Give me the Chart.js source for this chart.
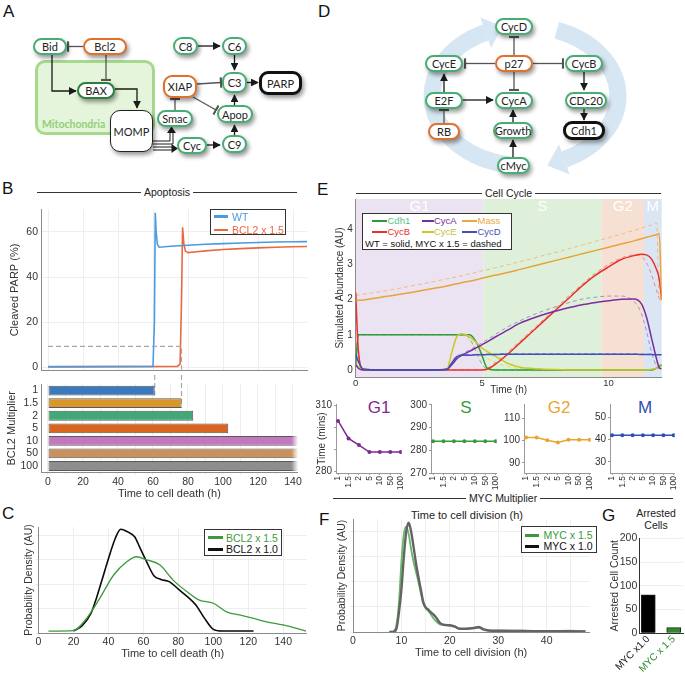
<!DOCTYPE html>
<html>
<head>
<meta charset="utf-8">
<title>Apoptosis and cell cycle model</title>
<script src="https://cdn.jsdelivr.net/npm/chart.js@4.4.1/dist/chart.umd.min.js"></script>
<style>
  body { margin: 0; background: #fff; }
  #fig { position: relative; width: 685px; height: 674px; overflow: hidden; font-family: 'Liberation Sans', Arial, sans-serif; color: #222; }
  #fig canvas { position: absolute; }
  .t { position: absolute; white-space: nowrap; transform: translate(-50%, -50%); line-height: 1; }
  .letter { position: absolute; font-size: 17px; line-height: 17px; color: #111; }
  .node { position: absolute; box-sizing: border-box; background: #fff; border: 2px solid #47ad74; border-radius: 9px;
          display: flex; align-items: center; justify-content: center; font-family: Lato, 'Liberation Sans', sans-serif;
          font-size: 11px; color: #222; box-shadow: 2px 3px 4px rgba(0,0,0,0.4); z-index: 3; }
  .node.or { border-color: #e0702c; }
  .node.dg { border-color: #2d7d3f; }
  .node.bk { border: 3px solid #111; }
  .node.mo { border: 1px solid #222; border-radius: 10px; }
  .sect { position: absolute; display: flex; align-items: center; font-size: 10.5px; height: 12px; }
  .sect i { flex: 1; height: 1px; background: #333; }
  .sect span { padding: 0 3px; }
  .leg { position: absolute; box-sizing: border-box; border: 1px solid #333; background: #fff; z-index: 4; font-size: 10px; }
  .leg span { position: absolute; white-space: nowrap; line-height: 12px; }
  .leg b { position: absolute; height: 2.5px; }
  #mito { position: absolute; left: 35px; top: 60px; width: 120px; height: 75px; box-sizing: border-box; border: 3px solid #a7d98c;
          border-radius: 10px; background: rgba(196, 232, 176, 0.45); z-index: 1; }
  #mito span { position: absolute; left: 4px; top: 55px; font-family: Lato, sans-serif; font-size: 10.5px; font-weight: bold; color: #93cf76; }
</style>
</head>
<body>
<div id="fig">
  <div class="letter" style="left:3px;top:3px">A</div>
  <div class="letter" style="left:318px;top:3px">D</div>
  <div class="letter" style="left:2px;top:180px">B</div>
  <div class="letter" style="left:2px;top:505px">C</div>
  <div class="letter" style="left:317px;top:181px">E</div>
  <div class="letter" style="left:319px;top:511px">F</div>
  <div class="letter" style="left:602px;top:507px">G</div>
  <div id="mito"><span>Mitochondria</span></div>

  <svg width="685" height="185" style="position:absolute;left:0;top:0;z-index:2" xmlns="http://www.w3.org/2000/svg">
    <defs>
      <marker id="ar" viewBox="0 0 10 10" refX="9" refY="5" markerWidth="6" markerHeight="6" orient="auto"><path d="M0,0 L10,5 L0,10 z" fill="#1a1a1a"/></marker>
      <marker id="tee" viewBox="0 0 4 12" refX="3" refY="6" markerWidth="3" markerHeight="8" orient="auto"><path d="M3,0 L3,12" stroke="#555" stroke-width="2.5"/></marker>
    </defs>
    <!-- cell cycle wheel -->
    <path d="M508.9,164.9 A93,70 0 0 1 485.7,32.6" fill="none" stroke="#d6e6f3" stroke-width="17"/>
    <polygon points="502.7,26.6 491,47.7 480.4,17.5" fill="#d6e6f3"/>
    <path d="M556.8,30.2 A93,70 0 0 1 564.3,159.4" fill="none" stroke="#d6e6f3" stroke-width="17"/>
    <polygon points="547.3,165.4 569.6,174.5 559,144.3" fill="#d6e6f3"/>
    <!-- activation -->
    <g fill="none" stroke="#1a1a1a" stroke-width="1.3" marker-end="url(#ar)">
      <path d="M52,55 V91 H76"/>
      <path d="M115,89 H137 V108"/>
      <path d="M198,46 H220"/>
      <path d="M234.5,55 V70"/>
      <path d="M247,82.5 H258"/>
      <path d="M234.5,105 V95"/>
      <path d="M234.5,135 V125"/>
      <path d="M207,145 H220"/>
      <path d="M444,92 V74"/>
      <path d="M463,100 H493"/>
      <path d="M513,122 V110"/>
      <path d="M513,157 V140"/>
      <path d="M584,72 V90"/>
      <path d="M584,109 V120"/>
    </g>
    <!-- inhibition -->
    <g fill="none" stroke="#555" stroke-width="1.3" marker-end="url(#tee)">
      <path d="M83,46.5 H68"/>
      <path d="M106,55 V80"/>
      <path d="M175,110 V99"/>
      <path d="M197,84 L221,82.5"/>
      <path d="M193,97 L216,110"/>
      <path d="M514,55 V37"/>
      <path d="M495,63.5 H465"/>
      <path d="M533,63.5 H563"/>
      <path d="M514,72 V90"/>
      <path d="M444,123 V110"/>
    </g>
    <!-- MOMP double arrows -->
    <g fill="none" stroke="#1a1a1a" stroke-width="1">
      <path d="M153,141 H170 V131"/><path d="M153,144 H173 V131"/>
      <path d="M153,147 H173"/><path d="M153,150 H173"/>
    </g>
    <polygon points="171.5,126.5 167,133 176,133" fill="#1a1a1a"/>
    <polygon points="178,148.5 171.5,144 171.5,153" fill="#1a1a1a"/>
  </svg>
</div>

<script>
// ---- data ----
// B: cleaved PARP traces (h, %)
const bTimeWT  = [0, 60, 60.8, 61.3, 61.8, 62.5, 63.5, 70, 80, 90, 100, 110, 120, 130, 140, 148];
const bParpWT  = [0.3, 0.4, 20, 68.5, 60, 54.5, 53.2, 53.6, 54.1, 54.5, 54.8, 55.1, 55.3, 55.5, 55.6, 55.7];
const bTimeBcl = [0, 74, 75.5, 76.3, 76.9, 77.6, 78.5, 80, 85, 90, 100, 110, 120, 130, 140, 148];
const bParpBcl = [0.2, 0.4, 1.5, 30, 62, 55, 51.5, 50.8, 51.2, 51.6, 52.2, 52.6, 52.9, 53.2, 53.4, 53.5];
const bThreshX = [0, 76.3, 76.3];
const bThreshY = [9.3, 9.3, -1.5];
const parpTicks = [0, 20, 40, 60];
const deathTicks = [0, 10, 20, 30, 40, 50, 60, 70, 80, 90, 100, 110, 120, 130, 140];

// B: time to death per BCL2 multiplier
const bclMult = ['1', '1.5', '2', '5', '10', '50', '100'];
const bclDeath = [61, 76.3, 83, 103, 143, 143, 143];
const bclColors = ['#3a79bb', '#d9962b', '#43a878', '#d9641f', '#c277bf', '#c8925f', '#8e8e8e'];

// C: death-time densities
const cTimeBlack = [20, 25, 30, 33, 36, 40, 44, 47, 51, 55, 58, 62, 66, 70, 75, 80, 85, 90, 95, 100, 105, 123];
const cBlack     = [0.08, 0.3, 0.8, 1.4, 2.1, 3.05, 3.9, 4.26, 4.15, 3.95, 3.5, 2.9, 2.35, 2.2, 2.1, 1.8, 1.5, 1.15, 0.6, 0.15, 0.08, 0.08];
const cTimeGreen = [5.7, 20, 27.5, 35, 43, 50.5, 56, 62, 69.5, 77, 85, 92, 100, 107.5, 115, 123, 130.5, 140, 153];
const cGreen     = [0.08, 0.1, 0.6, 1.42, 2.38, 2.92, 3.13, 3.0, 2.79, 2.17, 1.69, 1.35, 1.22, 0.87, 0.74, 0.6, 0.46, 0.33, 0.08];
const cTicks = [0, 20, 40, 60, 80, 100, 120, 140];
const densTicks = [0, 1, 2, 3, 4];

// E: simulated abundances over one cycle
const phaseNames  = ['G1', 'S', 'G2', 'M'];
const phaseStart  = [0, 5.05, 9.72, 11.4];
const phaseEnd    = [5.05, 9.72, 11.4, 12.1];
const phaseColors = ['#ebe3f2', '#dff0da', '#f6e0d4', '#dbe6f4'];
const tE = [0, 0.1, 0.3, 1, 2, 3, 3.6, 3.8, 4.0, 4.2, 4.5, 4.8, 5.0, 5.2, 5.5, 6, 6.5, 7, 7.5, 8, 8.5, 9, 9.5, 10, 10.5, 11, 11.3, 11.5, 11.7, 11.9, 12.0, 12.1];
const massWT  = [1.97, 1.98, 1.99, 2.07, 2.18, 2.31, 2.39, 2.42, 2.45, 2.48, 2.52, 2.57, 2.61, 2.64, 2.69, 2.77, 2.86, 2.95, 3.04, 3.13, 3.22, 3.31, 3.40, 3.49, 3.58, 3.67, 3.73, 3.77, 3.81, 3.85, 3.88, 2.0];
const massMYC = [2.12, 2.13, 2.15, 2.23, 2.36, 2.50, 2.59, 2.62, 2.65, 2.68, 2.73, 2.78, 2.82, 2.85, 2.90, 2.99, 3.08, 3.17, 3.27, 3.36, 3.46, 3.56, 3.66, 3.76, 3.86, 3.97, 4.03, 4.08, 4.12, 4.18, 2.0, 1.98];
const cycBWT  = [2.2, 0.6, 0.02, 0, 0, 0, 0, 0, 0, 0, 0, 0, 0, 0.02, 0.15, 0.44, 0.77, 1.1, 1.43, 1.76, 2.09, 2.42, 2.7, 2.93, 3.14, 3.25, 3.29, 3.27, 3.15, 2.85, 2.6, 2.0];
const cycBMYC = [2.2, 0.5, 0.01, 0, 0, 0, 0, 0, 0, 0, 0, 0, 0.01, 0.05, 0.2, 0.5, 0.82, 1.15, 1.48, 1.82, 2.15, 2.47, 2.76, 3.0, 3.18, 3.27, 3.22, 3.05, 2.7, 2.25, 2.05, 2.0];
const cycAWT  = [0.15, 0.05, 0, 0, 0, 0, 0.02, 0.15, 0.32, 0.42, 0.53, 0.64, 0.72, 0.8, 0.93, 1.13, 1.33, 1.47, 1.59, 1.69, 1.78, 1.86, 1.92, 1.97, 2.01, 2.02, 1.88, 1.5, 0.9, 0.3, 0.07, 0.03];
const cycAMYC = [0.15, 0.05, 0, 0, 0, 0, 0.03, 0.18, 0.35, 0.45, 0.57, 0.68, 0.78, 0.86, 1.0, 1.22, 1.4, 1.56, 1.7, 1.82, 1.93, 2.02, 2.07, 2.1, 2.1, 1.95, 1.6, 1.1, 0.5, 0.1, 0.05, 0.03];
const cdh1WT  = [0.1, 1, 1, 1, 1, 1, 1, 1, 1, 1, 1, 0.75, 0.4, 0.05, 0, 0, 0, 0, 0, 0, 0, 0, 0, 0, 0, 0, 0, 0, 0, 0.05, 0.1, 0.15];
const cdh1MYC = [0.1, 1, 1, 1, 1, 1, 1, 1, 1, 1, 0.9, 0.45, 0.15, 0.02, 0, 0, 0, 0, 0, 0, 0, 0, 0, 0, 0, 0, 0, 0, 0.01, 0.06, 0.12, 0.16];
const cycEWT  = [0.15, 0.1, 0.02, 0, 0, 0, 0.02, 0.5, 0.95, 1.03, 0.95, 0.76, 0.62, 0.52, 0.4, 0.19, 0.08, 0.04, 0.02, 0.01, 0, 0, 0, 0, 0, 0, 0, 0, 0.02, 0.05, 0.08, 0.12];
const cycEMYC = [0.15, 0.1, 0.02, 0, 0, 0, 0.03, 0.55, 0.98, 1.0, 0.85, 0.55, 0.42, 0.33, 0.22, 0.1, 0.04, 0.02, 0.01, 0, 0, 0, 0, 0, 0, 0, 0, 0, 0.02, 0.05, 0.09, 0.13];
const cycDWT  = [0.45, 0.25, 0.02, 0, 0, 0, 0.01, 0.2, 0.38, 0.42, 0.42, 0.43, 0.43, 0.44, 0.44, 0.45, 0.45, 0.45, 0.45, 0.45, 0.45, 0.45, 0.45, 0.45, 0.45, 0.45, 0.44, 0.44, 0.44, 0.43, 0.43, 0.43];
const cycDMYC = [0.45, 0.25, 0.02, 0, 0, 0, 0.02, 0.22, 0.4, 0.43, 0.44, 0.44, 0.45, 0.45, 0.45, 0.46, 0.46, 0.46, 0.46, 0.46, 0.46, 0.46, 0.46, 0.46, 0.46, 0.46, 0.45, 0.45, 0.45, 0.44, 0.44, 0.44];

// E: phase durations vs MYC multiplier (mins)
const mycMult = ['1', '1.5', '2', '5', '10', '50', '100'];
const multIdx = [0, 1, 2, 3, 4, 5, 6];
const g1Mins = [303, 295, 292, 288.8, 288.8, 288.8, 288.8];
const sMins  = [284, 284, 284, 284, 284, 284, 284];
const g2Mins = [101.4, 101.3, 100.1, 99.1, 100.3, 100.3, 100.3];
const mMins  = [42, 42, 42, 42, 42, 42, 42];

// F: division-time densities
const fTime   = [7.5, 8, 8.5, 9, 9.5, 10, 10.5, 11, 11.5, 12, 12.5, 13, 13.5, 14, 14.5, 15, 15.5, 16, 17, 18, 19, 20, 21, 22, 23, 24, 25, 26, 27, 28, 30, 35, 40, 45, 48];
const fMyc10  = [0, 0, 0.02, 0.15, 0.8, 1.7, 3.0, 4.0, 4.35, 4.0, 3.4, 2.75, 2.2, 1.7, 1.2, 0.98, 0.9, 0.8, 0.62, 0.35, 0.28, 0.27, 0.22, 0.13, 0.13, 0.14, 0.16, 0.2, 0.1, 0.06, 0.05, 0.04, 0.03, 0.03, 0.02];
const fMyc15  = [0, 0.01, 0.05, 0.3, 1.2, 2.8, 3.9, 4.2, 3.9, 3.3, 2.8, 2.4, 2.0, 1.55, 1.15, 0.95, 0.85, 0.72, 0.45, 0.3, 0.27, 0.25, 0.2, 0.13, 0.12, 0.14, 0.16, 0.17, 0.08, 0.06, 0.05, 0.05, 0.04, 0.05, 0.03];
const fTicks = [0, 5, 10, 15, 20, 25, 30, 35, 40, 45];

// G: arrested cells
const gLabels = ['MYC x1.0', 'MYC x 1.5'];
const gArrested = [81, 12];
const gColors = ['#000000', '#2e8b2e'];
const gTickColors = ['#111111', '#2e8b2e'];
const gTicks = [0, 50, 100, 150, 200];

// ---- page helpers ----
const fig = document.getElementById('fig');
function el(tag, cls, css, txt) {
  const e = document.createElement(tag);
  if (cls) e.className = cls;
  Object.assign(e.style, css);
  if (txt != null) e.textContent = txt;
  return e;
}
function text(str, cx, cy, size, color) {
  fig.appendChild(el('div', 't', {left: cx + 'px', top: cy + 'px', fontSize: size + 'px', color: color || '#222'}, str));
}
function section(str, l, w, cy) {
  const d = el('div', 'sect', {left: l + 'px', top: (cy - 6) + 'px', width: w + 'px'});
  d.innerHTML = '<i></i><span>' + str + '</span><i></i>';
  fig.appendChild(d);
}
function legend(l, t, w, h, items) {
  const box = el('div', 'leg', {left: l + 'px', top: t + 'px', width: w + 'px', height: h + 'px'});
  items.forEach(it => {
    if (it.line) box.appendChild(el('b', null, {left: it.x + 'px', top: (it.cy - 1.25) + 'px', width: it.line + 'px', background: it.color}));
    if (it.text) box.appendChild(el('span', null, {left: it.tx + 'px', top: (it.cy - 6) + 'px', color: it.tcolor || it.color, fontSize: (it.size || 10) + 'px'}, it.text));
  });
  fig.appendChild(box);
}
function node(label, l, t, w, h, cls) {
  fig.appendChild(el('div', 'node' + (cls ? ' ' + cls : ''), {left: l + 'px', top: t + 'px', width: w + 'px', height: h + 'px'}, label));
}
function mk(left, top, w, h) {
  const c = document.createElement('canvas');
  c.width = w; c.height = h;
  c.style.left = left + 'px'; c.style.top = top + 'px';
  c.style.width = w + 'px'; c.style.height = h + 'px';
  fig.appendChild(c);
  return c;
}
const setW = w => s => { s.width = w; };
const setH = h => s => { s.height = h; };
const ticksAt = vals => s => { s.ticks = vals.map(v => ({value: v})); };
const xy = (xs, ys) => xs.map((x, i) => ({x: x, y: ys[i]}));
function hexA(hex, a) {
  const n = parseInt(hex.slice(1), 16);
  return 'rgba(' + (n >> 16) + ',' + ((n >> 8) & 255) + ',' + (n & 255) + ',' + a + ')';
}

// ---- diagrams ----
[['Bid', 33, 38, 34, 17], ['Bcl2', 83, 38, 44, 17, 'or'], ['BAX', 77, 82, 38, 17, 'dg'], ['MOMP', 110, 110, 43, 42, 'mo'],
 ['XIAP', 163, 75, 34, 23, 'or'], ['Smac', 157, 110, 36, 17], ['Cyc', 177, 137, 30, 17], ['C8', 173, 37, 25, 18],
 ['C6', 222, 37, 25, 18], ['C3', 222, 72, 25, 21], ['PARP', 259, 71, 43, 24, 'bk'], ['Apop', 217, 105, 36, 18], ['C9', 222, 135, 25, 18],
 ['CycD', 495, 18, 38, 17], ['p27', 495, 55, 38, 17, 'or'], ['CycE', 425, 55, 38, 17], ['CycB', 565, 55, 38, 17],
 ['E2F', 425, 92, 38, 17], ['CycA', 495, 92, 38, 17], ['CDc20', 565, 92, 42, 17], ['RB', 428, 123, 32, 17, 'or'],
 ['Growth', 493, 122, 40, 17], ['Cdh1', 563, 121, 42, 19, 'bk'], ['cMyc', 497, 157, 33, 17]
].forEach(n => node.apply(null, n));

// ---- text furniture ----
section('Apoptosis', 37, 260, 192);
section('Cell Cycle', 356, 305, 193);
section('MYC Multiplier', 333, 340, 498);
text('Time to cell division (h)', 467, 515, 11);
text('Arrested', 656, 513, 10.5);
text('Cells', 656, 525, 10.5);
text('G1', 379, 407, 17, '#7d2a8f');
text('S', 466, 407, 17, '#3a9a3a');
text('G2', 559, 407, 17, '#e8a630');
text('M', 645, 407, 17, '#3050b0');

legend(210, 209, 76, 26, [
  {x: 3, cy: 6.5, line: 14, color: '#4a9be0', tx: 21, text: 'WT', size: 10.5},
  {x: 3, cy: 20, line: 14, color: '#ea6840', tx: 21, text: 'BCL2 x 1.5', size: 10.5}
]);
legend(204, 529, 78, 27, [
  {x: 3, cy: 7.7, line: 15, color: '#3d9a3d', tx: 21, text: 'BCL2 x 1.5', size: 10.5},
  {x: 3, cy: 19.3, line: 15, color: '#111', tx: 21, text: 'BCL2 x 1.0', size: 10.5}
]);
legend(521, 526, 76, 27, [
  {x: 3, cy: 8.3, line: 14, color: '#3a9a3a', tx: 21.5, text: 'MYC x 1.5', size: 10.5},
  {x: 3, cy: 19.3, line: 14, color: '#111', tx: 21.5, text: 'MYC x 1.0', size: 10.5}
]);
legend(362, 213, 150, 37, [
  {x: 9, cy: 7, line: 15, color: '#2e9b3a', tx: 24.5, text: 'Cdh1', tcolor: '#5cc08a', size: 9.5},
  {x: 59, cy: 7, line: 12, color: '#7b2c9e', tx: 71, text: 'CycA', size: 9.5},
  {x: 99, cy: 7, line: 15, color: '#eaa63f', tx: 114.5, text: 'Mass', size: 9.5},
  {x: 9, cy: 18, line: 15, color: '#e8312a', tx: 24.5, text: 'CycB', size: 9.5},
  {x: 59, cy: 18, line: 12, color: '#c9c92c', tx: 71, text: 'CycE', tcolor: '#c3c33a', size: 9.5},
  {x: 99, cy: 18, line: 15, color: '#3f51b5', tx: 114.5, text: 'CycD', size: 9.5},
  {tx: 2, cy: 29.5, text: 'WT = solid, MYC x 1.5 = dashed', color: '#111', size: 9.5}
]);

// ---- charts ----
Chart.defaults.font.family = "'Liberation Sans', Arial, sans-serif";
Chart.defaults.font.size = 10;
Chart.defaults.color = '#333';
Chart.defaults.animation = false;
Chart.defaults.responsive = false;
Chart.defaults.plugins.legend.display = false;
Chart.defaults.plugins.tooltip.enabled = false;
Chart.defaults.elements.point.radius = 0;

const faint = '#eeeeee';
const axisCol = '#8a8a8a';

// B top: cleaved PARP
new Chart(mk(0, 200, 312, 180), {
  type: 'line',
  data: {datasets: [
    {data: xy(bThreshX, bThreshY), borderColor: '#a8a8a8', borderWidth: 1.2, borderDash: [5, 3]},
    {data: xy(bTimeWT, bParpWT), borderColor: '#4a9be0', borderWidth: 1.6},
    {data: xy(bTimeBcl, bParpBcl), borderColor: '#ea6840', borderWidth: 1.6}
  ]},
  options: {
    layout: {padding: {top: 8.5, right: 5, left: 0, bottom: 0}},
    scales: {
      x: {type: 'linear', min: -4, max: 148, afterFit: setH(3.3), afterBuildTicks: ticksAt(cTicks),
          ticks: {display: false}, grid: {color: faint, drawTicks: false}, border: {color: axisCol}},
      y: {min: -1.5, max: 70, afterFit: setW(41), afterBuildTicks: ticksAt(parpTicks),
          ticks: {padding: 3, font: {size: 10.5}}, grid: {color: faint, drawTicks: false}, border: {color: axisCol},
          title: {display: true, text: 'Cleaved PARP (%)', font: {size: 11}, padding: {top: 8}}}
    }
  }
});

// B bottom: time to death per BCL2 multiplier
const bFadeFrom = 139;
function fadeFill(colors) {
  return ctx => {
    const c = colors[ctx.dataIndex];
    const ch = ctx.chart;
    if (!ch.chartArea || ctx.raw < bFadeFrom + 1) return c;
    const xs = ch.scales.x;
    const g = ch.ctx.createLinearGradient(xs.getPixelForValue(bFadeFrom), 0, xs.getPixelForValue(ctx.raw), 0);
    g.addColorStop(0, c);
    g.addColorStop(1, hexA(c, 0));
    return g;
  };
}
const guidePlugin = {
  id: 'guides',
  beforeDatasetsDraw(chart) {
    const {ctx, scales: {x, y}} = chart;
    const half = y.getPixelForValue(1) - y.getPixelForValue(0);
    ctx.save();
    ctx.strokeStyle = '#a8a8a8'; ctx.lineWidth = 1.2; ctx.setLineDash([5, 3]);
    [0, 1].forEach(i => {
      const px = x.getPixelForValue(bclDeath[i]);
      ctx.beginPath(); ctx.moveTo(px, 0); ctx.lineTo(px, y.getPixelForValue(i) + half * 0.4); ctx.stroke();
    });
    ctx.restore();
  }
};
new Chart(mk(0, 375, 312, 128), {
  type: 'bar',
  data: {labels: bclMult, datasets: [{
    data: bclDeath,
    backgroundColor: fadeFill(bclColors),
    borderColor: fadeFill(bclColors.map(() => '#5a5a5a')),
    borderWidth: 1, borderSkipped: false, barPercentage: 0.78, categoryPercentage: 1
  }]},
  options: {
    indexAxis: 'y',
    layout: {padding: {top: 8.7, right: 14.3, left: 0, bottom: 0}},
    scales: {
      x: {type: 'linear', min: -4, max: 142.7, afterFit: setH(30.7), afterBuildTicks: ticksAt(deathTicks),
          ticks: {padding: 1, font: {size: 10.5}, minRotation: 0, maxRotation: 0, autoSkip: false,
                  callback: v => (v % 20 === 0 ? v : '')},
          grid: {color: faint, tickLength: 3}, border: {color: axisCol},
          title: {display: true, text: 'Time to cell death (h)', font: {size: 11}, padding: {top: 0, bottom: 2}}},
      y: {afterFit: setW(41), ticks: {padding: 3, font: {size: 10.5}, autoSkip: false},
          grid: {display: false, drawTicks: false}, border: {color: axisCol},
          title: {display: true, text: 'BCL2 Multiplier', font: {size: 11}, padding: {top: 5.4}}}
    }
  },
  plugins: [guidePlugin]
});

// C: density of death times
new Chart(mk(0, 520, 312, 143), {
  type: 'line',
  data: {datasets: [
    {data: xy(cTimeGreen, cGreen), borderColor: '#3d9a3d', borderWidth: 1.3, cubicInterpolationMode: 'monotone'},
    {data: xy(cTimeBlack, cBlack), borderColor: '#0a0a0a', borderWidth: 1.6, cubicInterpolationMode: 'monotone'}
  ]},
  options: {
    layout: {padding: {top: 7, right: 5.3, left: 0, bottom: 0}},
    scales: {
      x: {type: 'linear', min: 0, max: 153.4, afterFit: setH(30), afterBuildTicks: ticksAt(cTicks),
          ticks: {padding: 1, font: {size: 10.5}, maxRotation: 0, autoSkip: false},
          grid: {color: faint, tickLength: 2}, border: {color: axisCol},
          title: {display: true, text: 'Time to cell death (h)', font: {size: 11}, padding: {top: 0, bottom: 2}}},
      y: {min: 0, max: 4.35, afterFit: setW(38.5), afterBuildTicks: ticksAt(densTicks),
          ticks: {display: false}, grid: {color: faint, tickLength: 3}, border: {color: axisCol},
          title: {display: true, text: 'Probability Density (AU)', font: {size: 10.5}, padding: {top: 22.7}}}
    }
  }
});

// E: abundances with cell-cycle phases
const phasePlugin = {
  id: 'phases',
  beforeDraw(chart) {
    const {ctx, chartArea: a, scales: {x}} = chart;
    ctx.save();
    phaseNames.forEach((name, i) => {
      const x0 = x.getPixelForValue(phaseStart[i]);
      const x1 = x.getPixelForValue(phaseEnd[i]);
      ctx.fillStyle = phaseColors[i];
      ctx.fillRect(x0, a.top, x1 - x0, a.bottom - a.top);
      ctx.fillStyle = '#ffffff';
      ctx.font = "15px 'Liberation Sans', Arial, sans-serif";
      ctx.textAlign = 'center'; ctx.textBaseline = 'middle';
      ctx.fillText(name, (x0 + x1) / 2, a.top + 8);
    });
    ctx.restore();
  }
};
function eLine(vals, color, width, dash) {
  return {data: xy(tE, vals), borderColor: color, borderWidth: width, borderDash: dash || [], cubicInterpolationMode: 'monotone'};
}
new Chart(mk(320, 190, 345, 206), {
  type: 'line',
  data: {datasets: [
    eLine(massWT, '#e9a23b', 1.5),
    eLine(cycDWT, '#3f51b5', 1.5),
    eLine(cycAWT, '#7b2c9e', 1.5),
    eLine(cycBWT, '#e8312a', 1.5),
    eLine(cycEWT, '#c9c92c', 1.5),
    eLine(cdh1WT, '#2e9b3a', 1.5),
    eLine(massMYC, '#f1bb7a', 1, [4, 3]),
    eLine(cycDMYC, '#8591d6', 1, [4, 3]),
    eLine(cycAMYC, '#9d94c6', 1, [4, 3]),
    eLine(cycBMYC, '#f08585', 1, [4, 3]),
    eLine(cycEMYC, '#dede72', 1, [4, 3]),
    eLine(cdh1MYC, '#6cbf72', 1, [4, 3])
  ]},
  options: {
    layout: {padding: {top: 9, right: 3.3, left: 0, bottom: 0}},
    scales: {
      x: {type: 'linear', min: 0, max: 12.1, afterFit: setH(19), afterBuildTicks: ticksAt([0, 5, 10]),
          ticks: {padding: 1, font: {size: 9.5}, maxRotation: 0}, grid: {display: false, drawTicks: false}, border: {color: axisCol},
          title: {display: true, text: 'Time (h)', font: {size: 10}, padding: 0}},
      y: {min: -0.2, max: 4.86, afterFit: setW(35.7), afterBuildTicks: ticksAt([0, 1, 2, 3, 4]),
          ticks: {padding: 3, font: {size: 10}}, grid: {display: false, drawTicks: false}, border: {color: axisCol},
          title: {display: true, text: 'Simulated Abundance (AU)', font: {size: 10}, padding: {top: 14}}}
    }
  },
  plugins: [phasePlugin]
});

// E: phase durations vs MYC multiplier
function phaseChart(left, axisW, areaRight, vals, color, yMin, yMax, yTicks, yLabels, yTitle) {
  const w = areaRight + 6 - left;
  return new Chart(mk(left, 396, w, 101), {
    type: 'line',
    data: {datasets: [{data: xy(multIdx, vals), borderColor: color, backgroundColor: color, borderWidth: 1.5,
                       pointRadius: 2, pointBorderWidth: 0}]},
    options: {
      layout: {padding: {top: 6, right: 6, left: 0, bottom: 0}},
      scales: {
        x: {type: 'linear', min: -0.2, max: 6.1, afterFit: setH(24), afterBuildTicks: ticksAt(multIdx),
            ticks: {callback: v => mycMult[v], minRotation: 90, maxRotation: 90, autoSkip: false, padding: 1, font: {size: 8.5}},
            grid: {drawOnChartArea: false, tickLength: 2, color: '#999'}, border: {color: '#999'}},
        y: {min: yMin, max: yMax, afterFit: setW(axisW), afterBuildTicks: ticksAt(yTicks),
            ticks: {callback: v => (yLabels.indexOf(v) >= 0 ? v : ''), padding: 2, font: {size: 10}, autoSkip: false},
            grid: {drawOnChartArea: false, tickLength: 2, color: '#999'}, border: {color: '#999'},
            title: {display: !!yTitle, text: yTitle || '', font: {size: 10}, padding: {top: 0}}}
      }
    }
  });
}
phaseChart(316, 20, 406, g1Mins, '#7d2a8f', 279.3, 310.7, [280, 290, 300, 310], [280, 310], 'Time (mins)');
phaseChart(410, 21, 501, sMins, '#3a9a3a', 270, 300.4, [270, 280, 290, 300], [270, 280, 290, 300]);
phaseChart(503, 21, 595, g2Mins, '#e8a630', 85.5, 116.3, [90, 100, 110], [90, 100, 110]);
phaseChart(592, 18, 679, mMins, '#3050b0', 25, 56.1, [30, 40, 50], [30, 40, 50]);

// F: density of division times
new Chart(mk(320, 510, 280, 152), {
  type: 'line',
  data: {datasets: [
    {data: xy(fTime, fMyc10), borderColor: '#646464', borderWidth: 2.4, cubicInterpolationMode: 'monotone'},
    {data: xy(fTime, fMyc15), borderColor: '#67b866', borderWidth: 1.8, cubicInterpolationMode: 'monotone'}
  ]},
  options: {
    layout: {padding: {top: 9, right: 10.7, left: 0, bottom: 0}},
    scales: {
      x: {type: 'linear', min: 0, max: 48.8, afterFit: setH(30), afterBuildTicks: ticksAt(fTicks),
          ticks: {padding: 1, font: {size: 10.5}, maxRotation: 0, autoSkip: false, callback: v => (v % 10 === 0 ? v : '')},
          grid: {color: faint, tickLength: 2}, border: {color: axisCol},
          title: {display: true, text: 'Time to cell division (h)', font: {size: 11}, padding: {top: 0, bottom: 2.3}}},
      y: {min: 0, max: 4.5, afterFit: setW(33), afterBuildTicks: ticksAt(densTicks),
          ticks: {display: false}, grid: {color: faint, tickLength: 3}, border: {color: axisCol},
          title: {display: true, text: 'Probability Density (AU)', font: {size: 10.5}, padding: {top: 15.4}}}
    }
  }
});

// G: arrested cells
new Chart(mk(600, 530, 85, 144), {
  type: 'bar',
  data: {datasets: [{
    data: xy([1, 2], gArrested), backgroundColor: gColors, borderColor: '#222', borderWidth: 1, barThickness: 14
  }]},
  options: {
    layout: {padding: {top: 8, right: 2, left: 0, bottom: 0}},
    scales: {
      x: {type: 'linear', min: 0.646, max: 2.366, offset: false, afterFit: setH(40.7), afterBuildTicks: ticksAt([1, 2]),
          ticks: {callback: v => gLabels[v - 1], minRotation: 45, maxRotation: 45, autoSkip: false, padding: 0,
                  font: {size: 10}, color: c => gTickColors[c.index]},
          grid: {display: false, drawTicks: false, offset: false}, border: {color: '#333'}},
      y: {min: 0, max: 200, afterFit: setW(39.3), afterBuildTicks: ticksAt(gTicks),
          ticks: {padding: 2, font: {size: 10.5}, autoSkip: false}, grid: {color: faint, drawTicks: false}, border: {color: '#333'},
          title: {display: true, text: 'Arrested Cell Count', font: {size: 10.5}, padding: {top: 9}}}
    }
  }
});
</script>
</body>
</html>
